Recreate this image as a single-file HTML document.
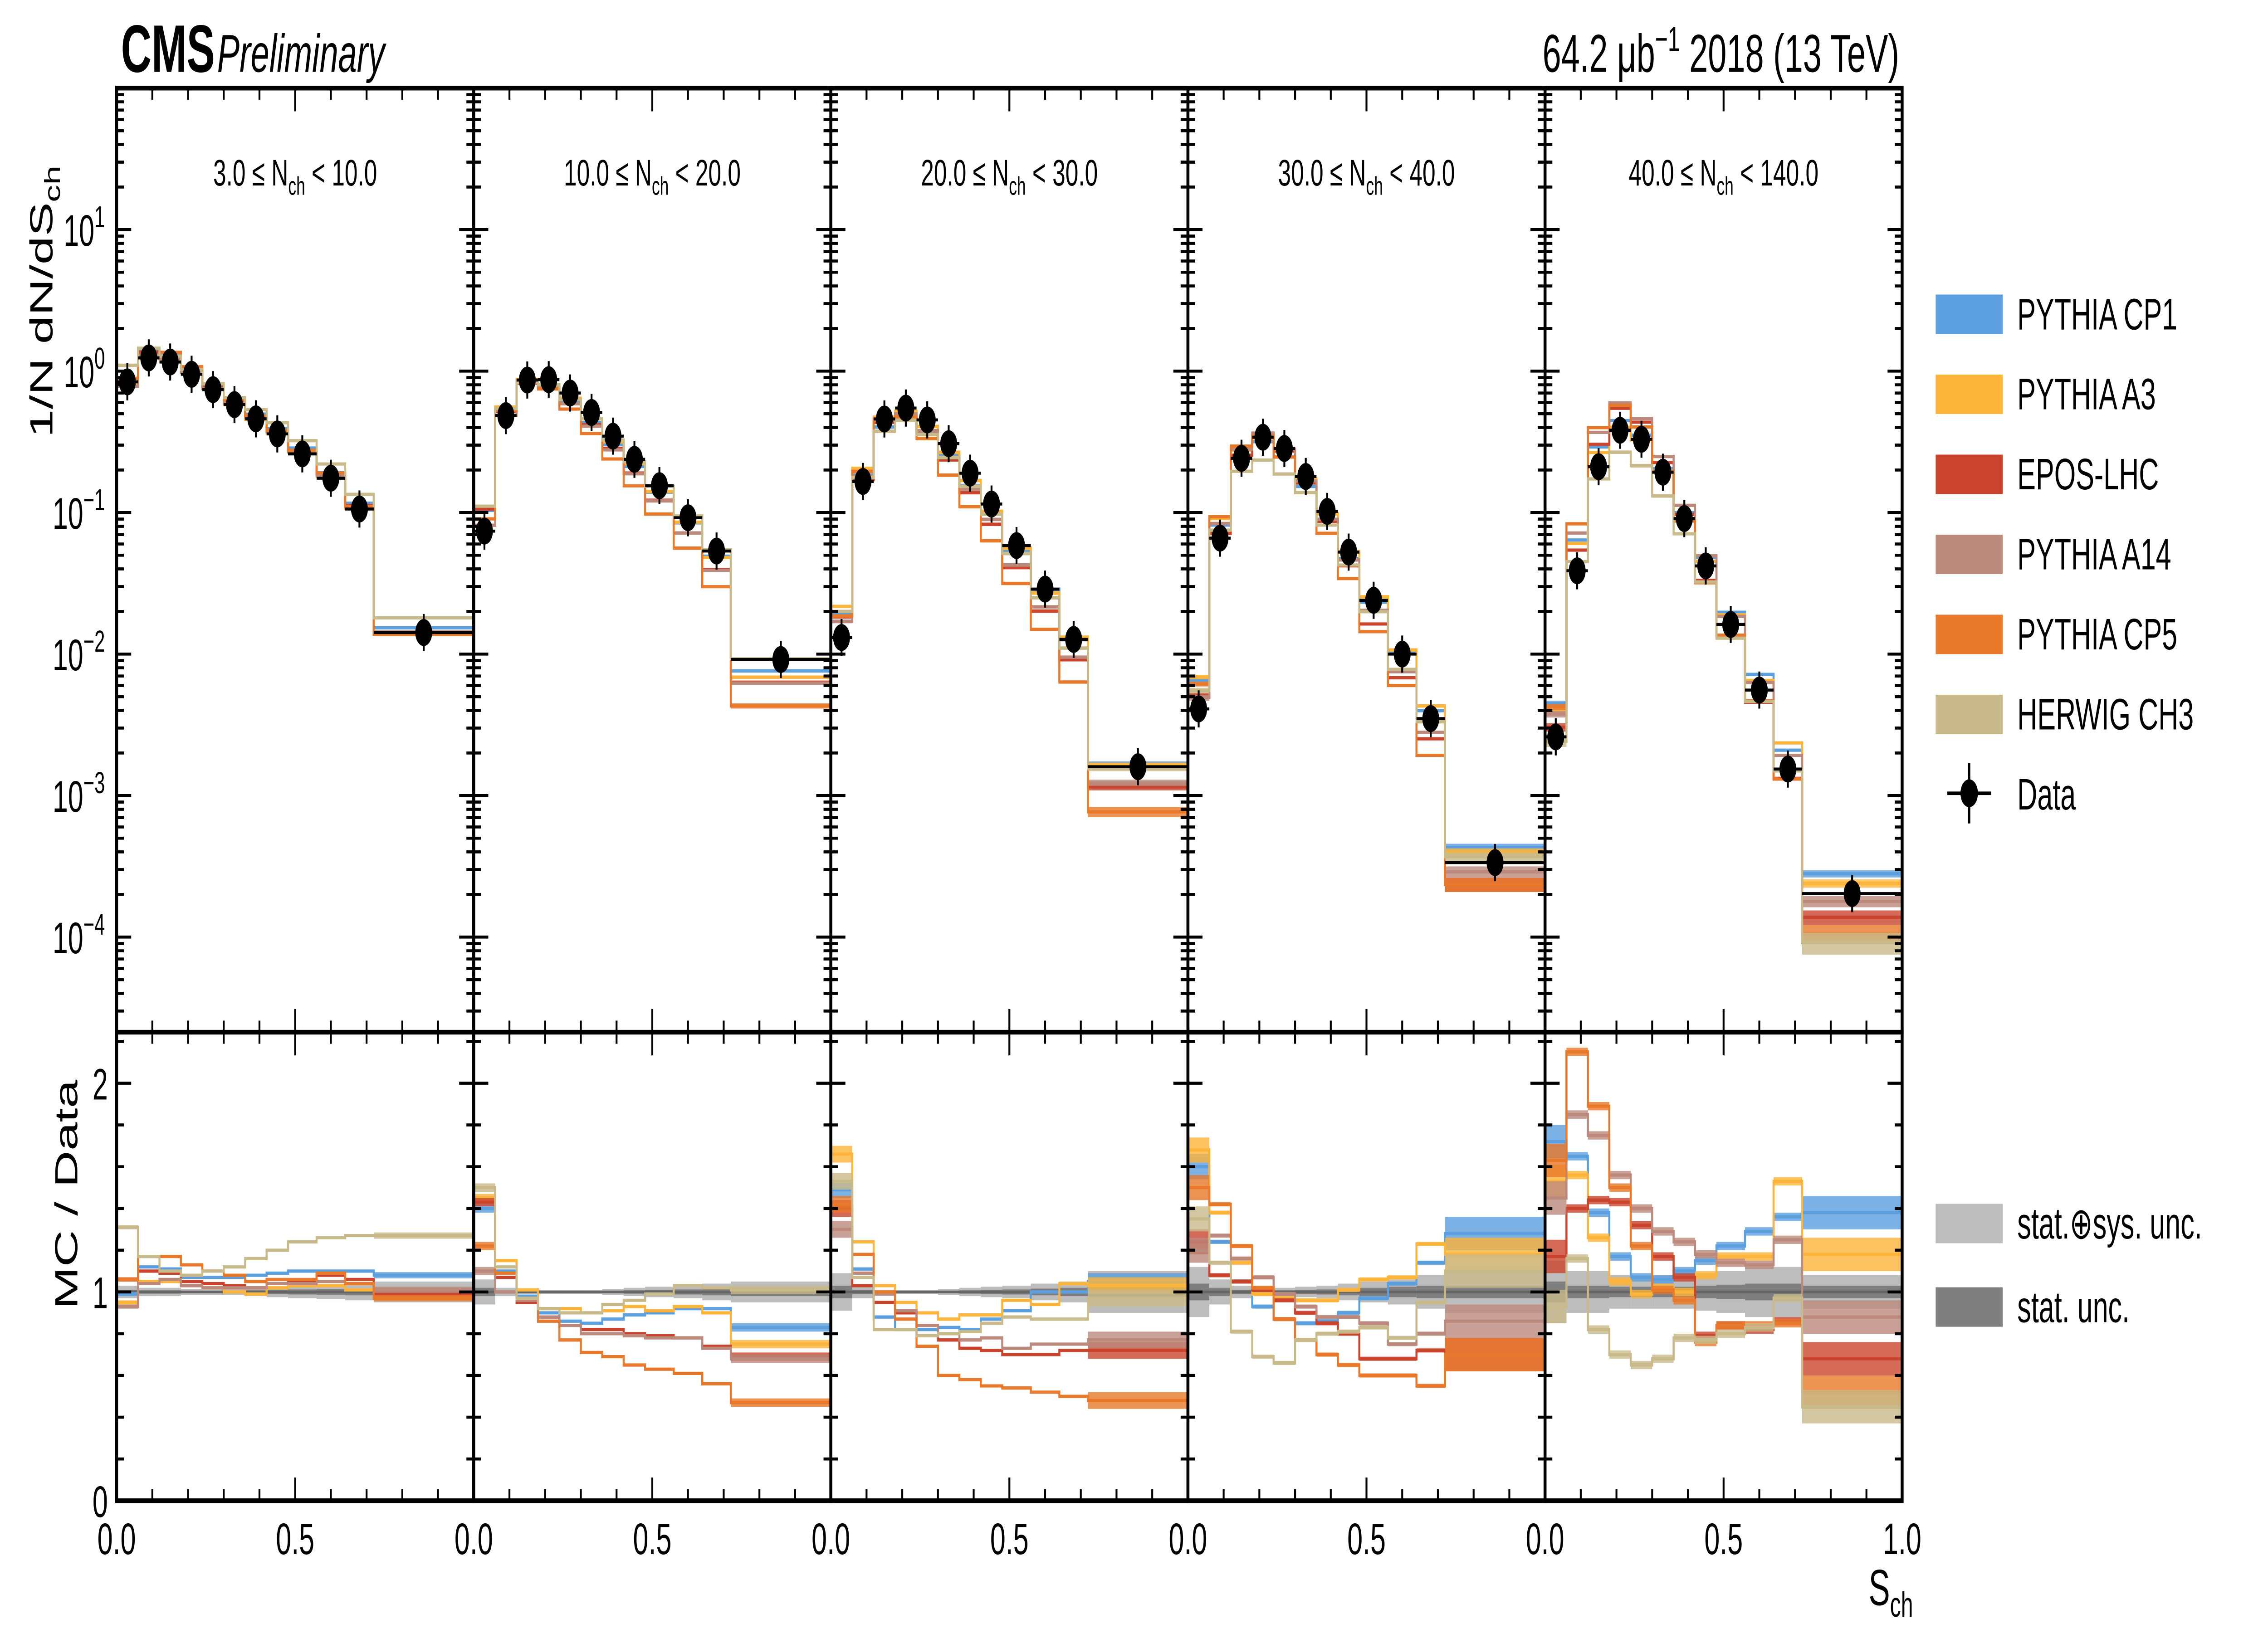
<!DOCTYPE html>
<html><head><meta charset="utf-8">
<style>
html,body{margin:0;padding:0;background:#fff;width:100%;height:100%;overflow:hidden;}
#wrap{position:fixed;left:0;top:0;width:100vw;height:100vh;overflow:hidden;}
svg{display:block;position:absolute;left:0;top:0;width:100vw;height:100vh;}
text{font-family:"Liberation Sans",sans-serif;fill:#000;}
</style></head><body>
<div id="wrap">
<svg id="chart" width="100%" height="100%" viewBox="0 0 1556 710.5" preserveAspectRatio="none" xmlns="http://www.w3.org/2000/svg">
<g id="bands"></g>
<g id="series"></g>
<g id="points"></g>
<g id="frames"></g>
<g id="labels"></g>
<g>
<text x="83" y="31" font-size="29" font-weight="bold">CMS</text>
<text x="149" y="31" font-size="23" font-style="italic">Preliminary</text>
<text x="1303" y="31" font-size="23" text-anchor="end">64.2 μb<tspan dy="-9" font-size="15">−1</tspan><tspan dy="9"> 2018 (13 TeV)</tspan></text>
</g>
<text transform="translate(36,130) rotate(-90)" font-size="22" text-anchor="middle">1/N dN/dS<tspan dy="5" font-size="15">ch</tspan></text>
<text transform="translate(53,515) rotate(-90)" font-size="22" text-anchor="middle">MC / Data</text>
<text x="1282" y="692" font-size="22">S<tspan dy="5" font-size="15">ch</tspan></text>
<g id="legend"></g>
</svg>
</div>
<script>
const edges = [0,0.06,0.12,0.18,0.24,0.30,0.36,0.42,0.48,0.56,0.64,0.72,1.0];
const panelTitles = ["3.0","10.0","20.0","30.0","40.0"];
const panelTitlesHi = ["10.0","20.0","30.0","40.0","140.0"];
const dataP1 = [0.84,1.24,1.16,0.95,0.74,0.58,0.46,0.36,0.26,0.175,0.106,0.0142];
const dataP2 = [0.074,0.485,0.865,0.87,0.70,0.51,0.347,0.238,0.155,0.092,0.0535,0.00916];
const dataP3 = [0.0131,0.166,0.459,0.548,0.452,0.307,0.19,0.115,0.0585,0.0288,0.0127,0.0016];
const dataP4 = [0.0041,0.066,0.242,0.341,0.284,0.18,0.102,0.0526,0.024,0.01,0.0035,0.000336];
const dataP5 = [0.0026,0.0388,0.211,0.382,0.33,0.193,0.0908,0.042,0.0162,0.00557,0.00154,0.000203];
const ratioCP1 = [
[0.99,1.12,1.11,1.07,1.07,1.07,1.08,1.09,1.1,1.1,1.1,1.08],
[1.4,1.1,0.98,0.9,0.86,0.85,0.87,0.89,0.9,0.92,0.92,0.83],
[1.49,1.11,0.88,0.82,0.82,0.83,0.82,0.87,0.91,1.0,1.0,1.05],
[1.6,1.24,1.05,0.93,0.87,0.85,0.86,0.9,0.97,1.04,1.14,1.28],
[1.72,1.65,1.38,1.17,1.07,1.06,1.1,1.15,1.22,1.29,1.36,1.38]];
const ratioA3 = [
[0.95,1.05,1.05,1.03,1.02,1.0,0.99,1.02,1.03,1.03,1.01,0.98],
[1.45,1.15,1.01,0.92,0.92,0.9,0.91,0.93,0.91,0.93,0.9,0.75],
[1.66,1.24,1.03,0.95,0.9,0.87,0.89,0.89,0.96,0.94,1.04,1.03],
[1.68,1.38,1.14,0.99,0.97,0.96,0.96,1.01,1.06,1.07,1.23,1.18],
[1.53,1.56,1.26,1.05,0.99,1.02,1.0,1.08,1.17,1.17,1.53,1.18]];
const ratioEPOS = [
[1.06,1.1,1.09,1.05,1.04,1.03,1.02,1.04,1.05,1.08,1.06,0.99],
[1.43,1.07,0.95,0.88,0.84,0.82,0.82,0.8,0.79,0.78,0.74,0.69],
[1.4,1.03,0.95,0.9,0.84,0.77,0.73,0.72,0.7,0.7,0.72,0.72],
[1.24,1.08,1.05,1.01,0.96,0.9,0.85,0.8,0.68,0.68,0.72,0.7],
[1.17,1.4,1.44,1.43,1.32,1.17,1.07,0.79,0.84,0.82,0.86,0.68]];
const ratioA14 = [
[0.93,1.04,1.06,1.03,1.02,1.02,1.02,1.04,1.04,1.05,1.04,1.01],
[1.1,1.0,0.96,0.88,0.84,0.8,0.8,0.79,0.78,0.78,0.73,0.68],
[1.3,1.09,0.99,0.91,0.84,0.8,0.77,0.78,0.73,0.75,0.75,0.77],
[1.2,1.27,1.16,1.07,0.99,0.93,0.88,0.88,0.85,0.75,0.8,0.86],
[1.45,1.85,1.75,1.56,1.4,1.29,1.24,1.18,1.14,1.13,1.25,0.88]];
const ratioCP5 = [
[1.06,1.17,1.17,1.13,1.1,1.08,1.05,1.06,1.06,1.09,1.04,0.97],
[1.22,1.09,0.97,0.86,0.77,0.71,0.69,0.65,0.63,0.61,0.56,0.47],
[1.42,1.18,1.0,0.87,0.74,0.6,0.58,0.55,0.54,0.52,0.5,0.48],
[1.5,1.42,1.22,1.02,0.87,0.77,0.7,0.65,0.6,0.6,0.55,0.7],
[1.63,2.15,1.89,1.5,1.22,1.01,0.96,0.76,0.84,0.84,0.85,0.52]];
const ratioHW = [
[1.31,1.17,1.1,1.08,1.1,1.12,1.16,1.2,1.24,1.26,1.27,1.27],
[1.5,1.12,0.97,0.92,0.9,0.9,0.94,0.96,0.99,1.03,1.02,1.01],
[1.53,1.07,0.82,0.82,0.79,0.8,0.81,0.85,0.88,0.87,0.87,0.97],
[1.35,1.14,0.81,0.69,0.66,0.77,0.8,0.81,0.83,0.78,0.95,1.1],
[0.93,1.16,0.82,0.7,0.65,0.68,0.78,0.77,0.8,0.83,0.97,0.45]];
const uncSys = [
[0.03,0.02,0.02,0.015,0.015,0.015,0.02,0.025,0.03,0.035,0.04,0.05],
[0.06,0.02,0.01,0.01,0.01,0.01,0.015,0.02,0.025,0.03,0.04,0.05],
[0.09,0.03,0.01,0.01,0.01,0.015,0.02,0.025,0.03,0.04,0.05,0.1],
[0.12,0.06,0.03,0.02,0.02,0.025,0.03,0.04,0.05,0.06,0.08,0.1],
[0.15,0.1,0.1,0.08,0.08,0.08,0.08,0.09,0.1,0.12,0.12,0.08]];
const uncStat = [
[0.01,0.008,0.008,0.006,0.006,0.006,0.008,0.01,0.012,0.014,0.016,0.02],
[0.02,0.008,0.005,0.005,0.005,0.005,0.006,0.008,0.01,0.012,0.016,0.02],
[0.03,0.01,0.005,0.005,0.005,0.006,0.008,0.01,0.012,0.016,0.02,0.03],
[0.04,0.02,0.01,0.008,0.008,0.01,0.012,0.016,0.02,0.025,0.03,0.03],
[0.05,0.03,0.03,0.025,0.025,0.025,0.025,0.03,0.035,0.04,0.04,0.03]];
const bandFirst = [0.01,0.02,0.04,0.06,0.08];
const bandMid = [0,0,0.005,0.01,0.02];
const bandLast = [0.015,0.02,0.04,0.08,0.08];

const seriesNames = ["PYTHIA CP1","PYTHIA A3","EPOS-LHC","PYTHIA A14","PYTHIA CP5","HERWIG CH3"];
const seriesColors = ["#5b9fde","#fdb43a","#c9432d","#bc8a7c","#e9792a","#c9ba8b"];
const allRatios = [ratioCP1,ratioA3,ratioEPOS,ratioA14,ratioCP5,ratioHW];
const allData = [dataP1,dataP2,dataP3,dataP4,dataP5];
const NB = edges.length-1;

const NS="http://www.w3.org/2000/svg";
const X0=80, PW=245, TOP=38, MID=445, BOT=647;
function mk(tag, attrs, parent){const e=document.createElementNS(NS,tag);for(const k in attrs)e.setAttribute(k,attrs[k]);parent.appendChild(e);return e;}
function xs(p,v){return X0+p*PW+v*PW;}
function yu(v){return 160-61*Math.log10(v);}
function yr(r){return Math.max(MID, Math.min(BOT, 647-90*r));}
function yuc(v){return Math.max(TOP, Math.min(MID, yu(v)));}

const gB=document.getElementById('bands'), gS=document.getElementById('series'), gP=document.getElementById('points'), gF=document.getElementById('frames'), gL=document.getElementById('labels'), gLeg=document.getElementById('legend');

for(let p=0;p<5;p++){
  const data=allData[p];
  for(let i=0;i<NB;i++){
    const x1=xs(p,edges[i]), x2=xs(p,edges[i+1]);
    const s=uncSys[p][i], st=uncStat[p][i];
    const r1=mk('rect',{x:x1,y:yr(1+s),width:x2-x1,height:yr(1-s)-yr(1+s),fill:'#bdbdbd'},gB);
    
    
    const r2=mk('rect',{x:x1,y:yr(1+st),width:x2-x1,height:yr(1-st)-yr(1+st),fill:'#7f7f7f'},gB);
    
    
  }
  const ln=mk('line',{x1:xs(p,0),x2:xs(p,1),y1:yr(1),y2:yr(1),stroke:'#666','stroke-width':1.2},gB);
  
  
  for(let s=0;s<6;s++){
    const rat=allRatios[s][p];
    let du='', dr='';
    for(let i=0;i<NB;i++){
      const x1=xs(p,edges[i]), x2=xs(p,edges[i+1]);
      const mc=data[i]*rat[i];
      du+=(i==0?'M':'L')+x1+','+yuc(mc)+'L'+x2+','+yuc(mc);
      dr+=(i==0?'M':'L')+x1+','+yr(rat[i])+'L'+x2+','+yr(rat[i]);
      const h=(i==0)?bandFirst[p]:(i==NB-1?bandLast[p]:bandMid[p]);
      if(h>0){
        const rel=h/rat[i];
        const bu=mk('rect',{x:x1,y:yuc(mc*(1+rel)),width:x2-x1,height:Math.max(1,yuc(mc*Math.max(0.05,1-rel))-yuc(mc*(1+rel))),fill:seriesColors[s],opacity:0.8},gS);
        
        
        const br=mk('rect',{x:x1,y:yr(rat[i]+h),width:x2-x1,height:Math.max(1,yr(rat[i]-h)-yr(rat[i]+h)),fill:seriesColors[s],opacity:0.8},gS);
        
        
      }
    }
    const pu=mk('path',{d:du,fill:'none',stroke:seriesColors[s],'stroke-width':1.4},gS);
    
    
    const pr=mk('path',{d:dr,fill:'none',stroke:seriesColors[s],'stroke-width':1.4},gS);
    
    
  }
  for(let i=0;i<NB;i++){
    const cx=xs(p,(edges[i]+edges[i+1])/2), cy=yu(data[i]);
    const x1=xs(p,edges[i]), x2=xs(p,edges[i+1]);
    const eb=mk('path',{d:`M${x1},${cy}L${x2},${cy}M${cx},${cy-8}L${cx},${cy+8}`,stroke:'#000','stroke-width':1.3,fill:'none'},gP);
    
    
    const c=mk('circle',{cx:cx,cy:cy,r:5.8,fill:'#000'},gP);
    
    
  }
  const xa=X0+p*PW;
  const f1=mk('rect',{x:xa,y:TOP,width:PW,height:MID-TOP,fill:'none',stroke:'#000','stroke-width':2},gF);
  
  
  const f2=mk('rect',{x:xa,y:MID,width:PW,height:BOT-MID,fill:'none',stroke:'#000','stroke-width':2},gF);
  
  
  let td='';
  for(let k=0;k<=10;k++){
    const x=xs(p,k/10), L=(k%5==0)?10:5;
    td+=`M${x},${BOT}L${x},${BOT-L}M${x},${MID}L${x},${MID+L}M${x},${MID}L${x},${MID-L}M${x},${TOP}L${x},${TOP+L}`;
  }
  for(let e=-5;e<=1;e++){
    for(let m=1;m<10;m++){
      const y=yu(m*Math.pow(10,e)); if(y<TOP||y>MID) continue;
      const L=(m==1)?10:5;
      td+=`M${xa},${y}L${xa+L},${y}M${xa+PW},${y}L${xa+PW-L},${y}`;
    }
  }
  for(let k=0;k<=11;k++){
    const r=k*0.2, y=yr(r); if(y<=MID) continue; const L=(k%5==0)?10:5;
    td+=`M${xa},${y}L${xa+L},${y}M${xa+PW},${y}L${xa+PW-L},${y}`;
  }
  const tk=mk('path',{d:td,stroke:'#000','stroke-width':1.3,fill:'none'},gF);
  
  
  const t=mk('text',{x:xa+PW/2,y:80,'font-size':16,'text-anchor':'middle'},gL);
  
  
  t.innerHTML=`${panelTitles[p]} ≤ N<tspan dy="4" font-size="11">ch</tspan><tspan dy="-4"> &lt; ${panelTitlesHi[p]}</tspan>`;
  const lab=['0.0','0.5'];
  for(let k=0;k<2;k++){
    const tl=mk('text',{x:xs(p,k*0.5),y:670,'font-size':19,'text-anchor':'middle'},gL);
    
    
    tl.textContent=lab[k];
  }
}
const tl1=mk('text',{x:xs(4,1),y:670,'font-size':19,'text-anchor':'middle'},gL);


tl1.textContent='1.0';
for(let e=-4;e<=1;e++){
  const y=yu(Math.pow(10,e));
  const t=mk('text',{x:72,y:y+7,'font-size':19,'text-anchor':'end'},gL);
  
  
  t.innerHTML=`10<tspan dy="-8" font-size="13">${e<0?'−'+(-e):e}</tspan>`;
}
for(let r=0;r<=2;r++){
  const t=mk('text',{x:74,y:yr(r)+7,'font-size':19,'text-anchor':'end'},gL);
  
  
  t.textContent=String(r);
}
for(let s=0;s<6;s++){
  const y=135+s*34.5;
  const r=mk('rect',{x:1328,y:y-8,width:46,height:17,fill:seriesColors[s]},gLeg);
  
  
  const t=mk('text',{x:1384,y:y+7,'font-size':19},gLeg);
  
  
  t.textContent=seriesNames[s];
}
{
  const y=342;
  const m=mk('path',{d:`M1336,${y}L1366,${y}M1351,${y-13}L1351,${y+13}`,stroke:'#000','stroke-width':1.5},gLeg);
  
  
  const c=mk('circle',{cx:1351,cy:y,r:6,fill:'#000'},gLeg);
  
  
  const t=mk('text',{x:1384,y:y+7,'font-size':19},gLeg);
  
  
  t.textContent='Data';
}
const uncLeg=[['#bdbdbd','stat.⊕sys. unc.',527],['#7f7f7f','stat. unc.',563]];
for(const u of uncLeg){
  const r=mk('rect',{x:1328,y:u[2]-8,width:46,height:17,fill:u[0]},gLeg);
  
  
  const t=mk('text',{x:1384,y:u[2]+7,'font-size':19},gLeg);
  
  
  t.textContent=u[1];
}
</script>
</body></html>
